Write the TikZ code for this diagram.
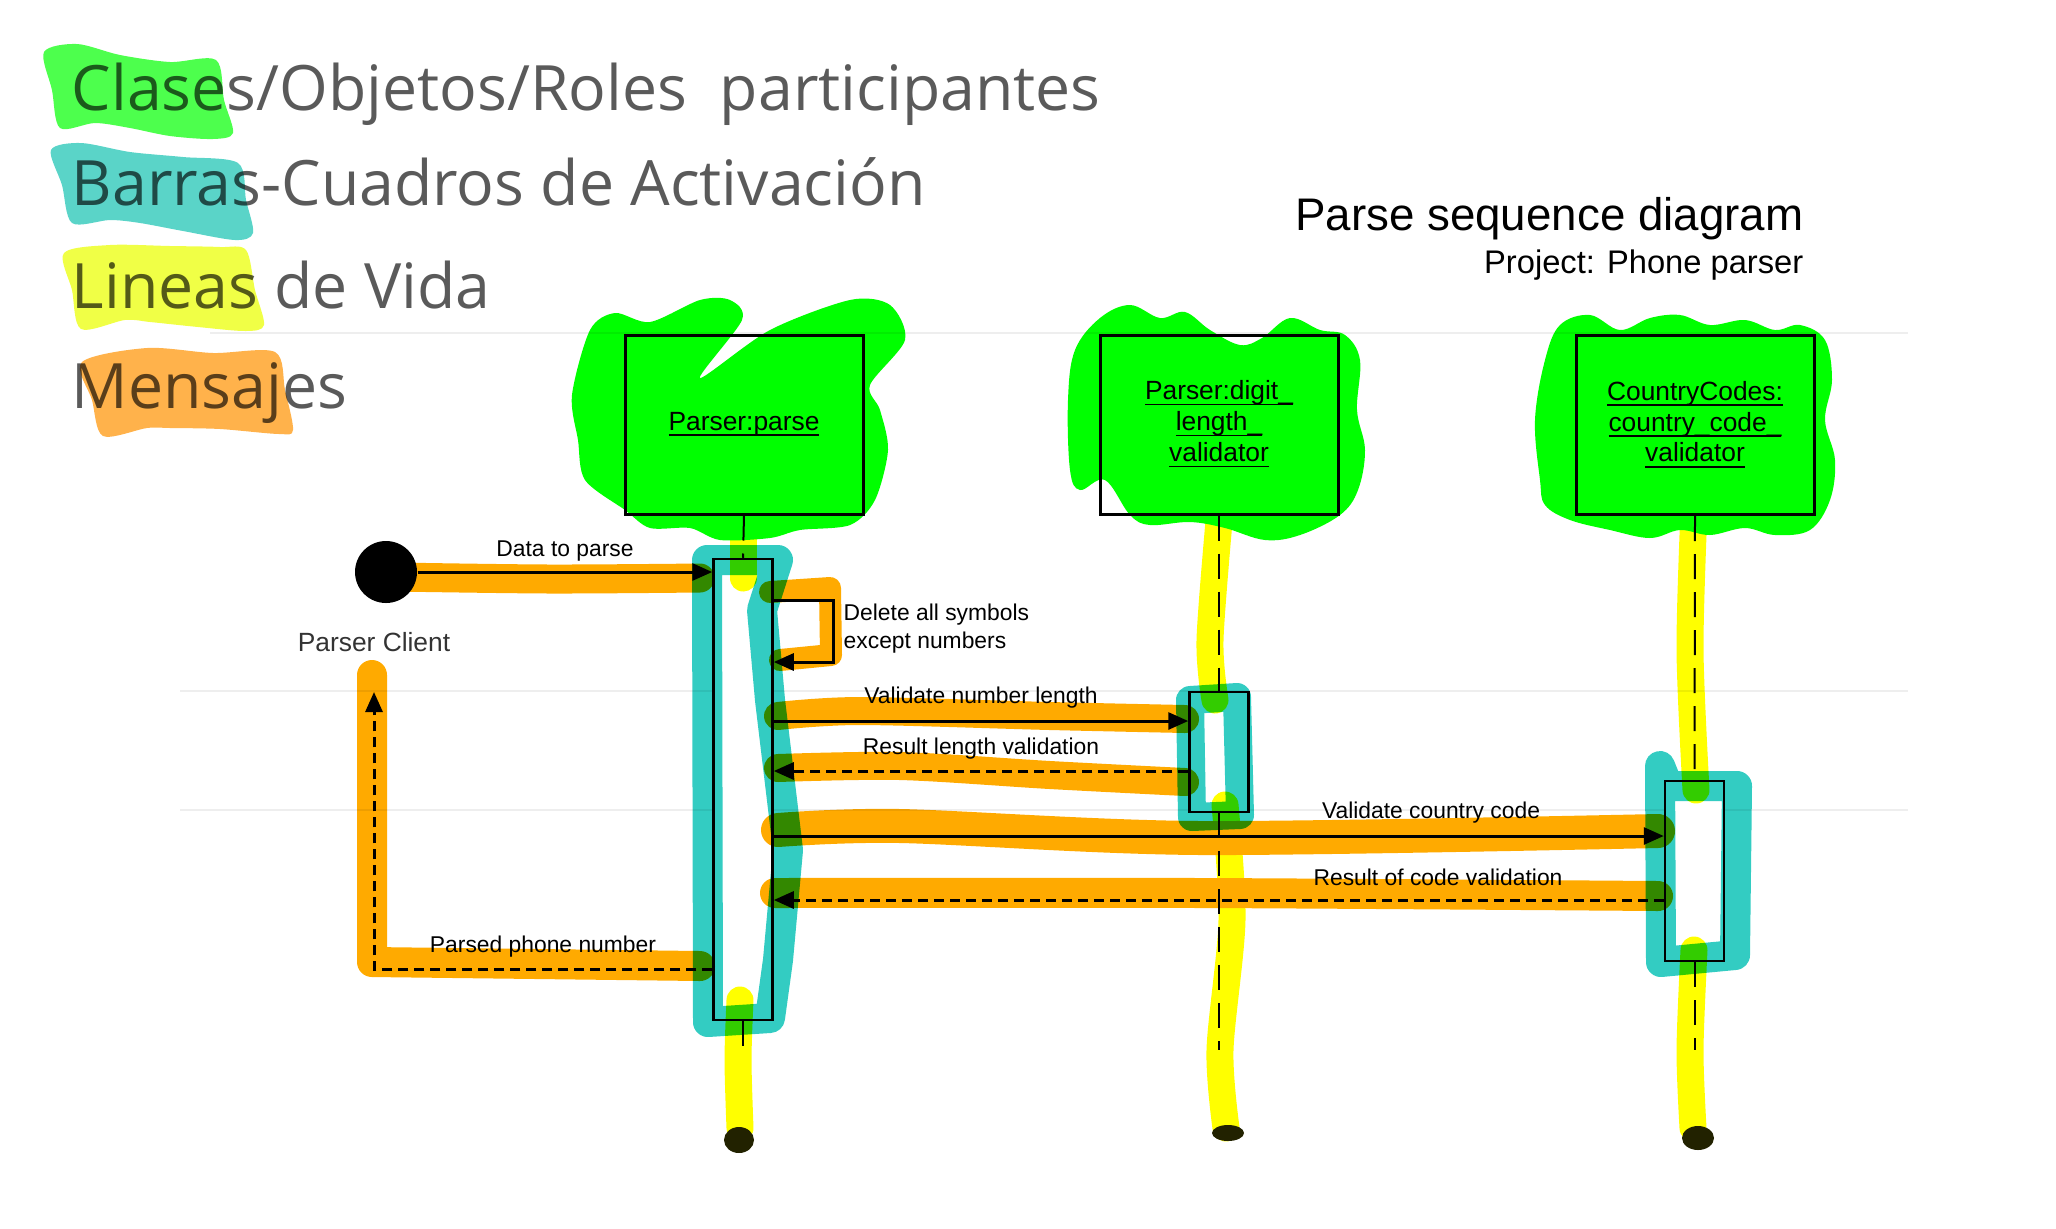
\documentclass[tikz,border=0pt]{standalone}
\usepackage{fontspec}
\setmainfont{Liberation Sans}
\newfontfamily\legendfamily{Open Sans}
\usetikzlibrary{arrows.meta,positioning,shapes.geometric}
\definecolor{hlgreen}{HTML}{00FF00}
\definecolor{hlteal}{HTML}{33CCC2}
\definecolor{hlyellow}{HTML}{FFFF00}
\definecolor{hlorange}{HTML}{FFAA00}
\definecolor{lggreen}{HTML}{4DFF4D}
\definecolor{lgteal}{HTML}{5AD4C8}
\definecolor{lgyellow}{HTML}{F0FF46}
\definecolor{lgorange}{HTML}{FFB24B}
\definecolor{legendgray}{HTML}{5A5A5A}
\definecolor{blobdark}{HTML}{222200}
\definecolor{gridgray}{HTML}{EEEEEE}
\newcommand\objfont{\fontsize{7.5}{8.8}\selectfont}
\newcommand\msgfont{\fontsize{6.5}{8}\selectfont}
\newcommand\legendfont{\legendfamily\fontsize{17.8}{21}\selectfont}
\newcommand\objname[1]{\underline{\raisebox{0pt}[\height][0pt]{#1}}}

\begin{document}
\begin{tikzpicture}[x=0.1mm, y=-0.1mm,
  objbox/.style={draw=black, line width=0.3mm, minimum width=23.8mm, minimum height=17.9mm, font=\objfont, align=center, inner sep=0},
  actbar/.style={draw=black, line width=0.25mm, fill=white, minimum width=5.9mm, inner sep=0},
  lifeline/.style={line width=0.2mm, dash pattern=on 2.5mm off 1.3mm},
  msg/.style={line width=0.3mm, -{Triangle[length=2mm,width=1.7mm]}},
  reply/.style={msg, dash pattern=on 1mm off 0.6mm},
  msglabel/.style={font=\msgfont, inner sep=0},
  legend/.style={font=\legendfont, text=legendgray, inner sep=0, anchor=base west},
  hl/.style={line cap=round, line join=round},
  hlo/.style={hl, draw=hlorange},
  hly/.style={hl, draw=hlyellow, line width=2.7mm},
  hlt/.style={hl, draw=hlteal, line width=3mm}]
  \useasboundingbox (0,0) rectangle (2056,1228);

  % faint grid
  \draw[gridgray, line width=0.2mm] (210,333) -- (1908,333);
  \draw[gridgray, line width=0.2mm] (180,691) -- (1908,691);
  \draw[gridgray, line width=0.2mm] (180,810) -- (1908,810);

  % Legend
  \node[legend] (lclases) at (71,110) {Clases/Objetos/Roles~ participantes};
  \node[legend] (lbarras) at (71,205) {Barras-Cuadros de Activación};
  \node[legend] (llineas) at (71,308) {Lineas de Vida};
  \node[legend] (lmensajes) at (71,408) {Mensajes};

  % Title
  \node[anchor=base east, inner sep=0, font=\fontsize{13}{15}\selectfont] (title) at (1804,230) {Parse sequence diagram};
  \node[anchor=base east, inner sep=0, font=\fontsize{9.3}{11}\selectfont] (project) at (1804,273) {Project: Phone parser};

  % Objects
  \node[objbox] (parse) at (744,424.5) {\objname{Parser:parse}};
  \node[objbox] (digit) at (1219,424.5) {\objname{Parser:digit\_}\\\objname{length\_}\\\objname{validator}};
  \node[objbox] (country) at (1695,425) {\objname{CountryCodes:}\\\objname{country\_code\_}\\\objname{validator}};

  % Activation bars
  \node[actbar, minimum height=46.1mm] (act1) at (743,789.5) {};
  \node[actbar, minimum height=12mm] (act2) at (1219,752) {};
  \node[actbar, minimum height=18mm] (act3) at (1694.5,871) {};

  % Lifelines
  \coordinate (end1) at (743,1050);
  \coordinate (end2) at (1219,1050);
  \coordinate (end3) at (1694.5,1050);
  \draw[lifeline] (parse.south) -- (act1.north);
  \draw[lifeline] (act1.south) -- (end1);
  \draw[lifeline] (digit.south) -- (act2.north);
  \draw[lifeline] (act2.south) -- (end2);
  \draw[lifeline] (country.south) -- (act3.north);
  \draw[lifeline] (act3.south) -- (end3);

  % Client
  \node[circle, fill=black, minimum size=6.2mm, inner sep=0] (client) at (386,572) {};
  \node[font=\objfont, text=black!80, inner sep=0] (clientlbl) at (374,642) {Parser Client};

  % Messages
  \draw[msg] (client) -- (act1.west |- client);
  \node[msglabel] (ldata) at (565,551) {Data to parse};

  \coordinate (selftop) at (833,600);
  \coordinate (selfbot) at (833,662);
  \draw[msg] (act1.east |- selftop) -| (selfbot) -- (act1.east |- selfbot);
  \node[msglabel, anchor=west, align=left] (ldelete) at (843,629) {Delete all symbols\\except numbers};

  \draw[msg] (act1.east |- 0,721) -- (act2.west |- 0,721);
  \node[msglabel] (lvalnum) at (981,698) {Validate number length};

  \draw[reply] (act2.west |- 0,771) -- (act1.east |- 0,771);
  \node[msglabel] (lreslen) at (981,749) {Result length validation};

  \draw[msg] (act1.east |- 0,836) -- (act3.west |- 0,836);
  \node[msglabel] (lvalcc) at (1431,813) {Validate country code};

  \draw[reply] (act3.west |- 0,900) -- (act1.east |- 0,900);
  \node[msglabel] (lrescc) at (1438,877) {Result of code validation};

  \coordinate (back) at (374,692);
  \draw[reply] (act1.west |- 0,969) -| (back);
  \node[msglabel] (lparsed) at (543,947) {Parsed phone number};

  % Highlighter marks
  \begin{scope}[blend mode=multiply]
    % legend flags
    \fill[lggreen] plot[smooth cycle, tension=0.5] coordinates {(44,52) (77,44) (120,55) (170,62) (216,60) (224,100) (233,133) (213,139) (170,136) (130,128) (95,123) (60,128) (52,90)};
    \fill[lgteal] plot[smooth cycle, tension=0.5] coordinates {(51,150) (81,143) (130,152) (183,157) (238,163) (246,200) (253,233) (235,240) (183,231) (140,223) (110,220) (72,223) (62,185)};
    \fill[lgyellow] plot[smooth cycle, tension=0.5] coordinates {(64,253) (110,245) (170,246) (220,247) (246,250) (255,290) (264,325) (246,331) (198,327) (150,322) (125,320) (81,329) (72,290)};
    \fill[lgorange] plot[smooth cycle, tension=0.5] coordinates {(82,362) (147,348) (213,353) (275,352) (285,390) (293,430) (279,434) (220,429) (170,428) (147,428) (103,436) (92,400)};

    % objects
    \fill[hlgreen] plot[smooth cycle, tension=0.5] coordinates {(572,395) (590,330) (615,313) (650,322) (700,300) (730,300) (742,320) (700,378) (770,330) (850,300) (890,305) (905,340) (870,385) (880,410) (888,450) (875,500) (850,525) (800,530) (770,538) (720,540) (690,528) (650,528) (625,510) (585,480) (578,440)};
    \fill[hlgreen] plot[smooth cycle, tension=0.6] coordinates {(1070,470) (1068,400) (1075,350) (1100,318) (1130,305) (1160,318) (1185,312) (1210,330) (1240,345) (1262,338) (1290,318) (1320,330) (1345,335) (1360,360) (1357,410) (1365,450) (1358,490) (1340,515) (1300,535) (1265,540) (1225,528) (1190,522) (1150,525) (1130,515) (1105,480) (1080,490)};
    \fill[hlgreen] plot[smooth cycle, tension=0.6] coordinates {(1540,480) (1535,420) (1545,360) (1560,325) (1590,315) (1620,330) (1650,318) (1680,315) (1710,325) (1745,320) (1775,330) (1800,325) (1825,340) (1832,380) (1825,420) (1835,460) (1830,500) (1810,530) (1775,535) (1745,528) (1710,535) (1680,530) (1650,538) (1610,530) (1570,520) (1545,505)};

    % lifelines
    \draw[hly] (743,510) -- (743,578);
    \draw[hly] plot[smooth] coordinates {(740,1000) (738,1060) (740,1128)};
    \draw[hly] plot[smooth] coordinates {(1220,510) (1210,640) (1215,700)};
    \draw[hly] plot[smooth] coordinates {(1225,805) (1232,920) (1220,1050) (1226,1128)};
    \draw[hly] plot[smooth] coordinates {(1694,510) (1690,650) (1696,790)};
    \draw[hly] plot[smooth] coordinates {(1694,950) (1690,1050) (1693,1128)};

    % activation bars
    \draw[hlt] (707,560) -- (778,560) -- (762,610) -- (770,700) -- (788,850) -- (778,960) -- (770,1018) -- (708,1022) -- cycle;
    \draw[hlt, line width=2.8mm] (1190,700) -- (1237,697) -- (1240,815) -- (1192,817) -- cycle;
    \draw[hlt] (1660,766) -- (1661,962) -- (1735,955) -- (1737,786) -- (1668,786) -- cycle;

    % messages
    \draw[hlo, line width=2.9mm] plot[smooth] coordinates {(395,577) (550,579) (700,578)};
    \draw[hlo, line width=2.2mm] (770,592) -- (830,588) -- (831,655) -- (780,660);
    \draw[hlo, line width=2.8mm] plot[smooth] coordinates {(778,716) (860,711) (1050,716) (1185,719)};
    \draw[hlo, line width=2.8mm] plot[smooth] coordinates {(778,768) (900,766) (1050,775) (1185,782)};
    \draw[hlo, line width=3.4mm] plot[smooth] coordinates {(778,830) (900,826) (1200,838) (1658,831)};
    \draw[hlo, line width=3mm] plot[smooth] coordinates {(775,893) (1200,893) (1658,896)};
    \draw[hlo, line width=3mm] (372,675) -- (372,962) -- (700,966);
  \end{scope}

  % lifeline ends
  \fill[blobdark] (739,1140) ellipse (15 and 13);
  \fill[blobdark] (1228,1133) ellipse (16 and 8);
  \fill[blobdark] (1698,1138) ellipse (16 and 12);
\end{tikzpicture}
\end{document}
